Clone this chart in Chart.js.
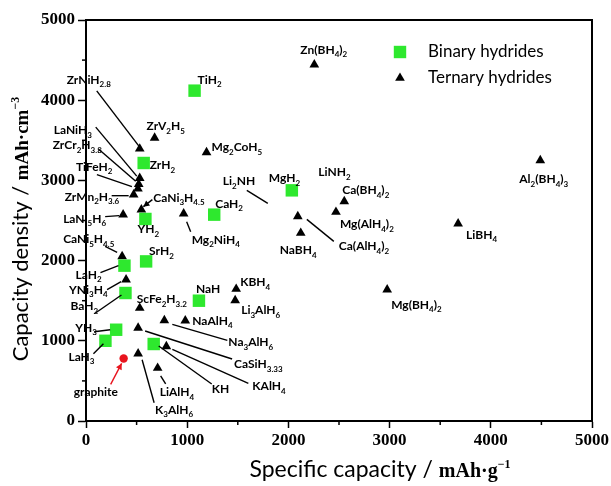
<!DOCTYPE html>
<html><head><meta charset="utf-8">
<script src="https://cdn.jsdelivr.net/npm/chart.js@4/dist/chart.umd.min.js"></script>
<style>html,body{margin:0;padding:0;background:#fff;}canvas{display:block}</style>
</head><body>
<canvas id="c" width="611" height="486"></canvas>
<script>
// ---------------- data ----------------
const binaryNames = ['TiH_2','ZrH_2','MgH_2','CaH_2','YH_2','SrH_2','LaH_2','BaH_2','NaH','YH_3','LaH_3','KH'];
const binaryCapacity = [1073,570,2034,1267,587,594,380,390,1116,298,192,669];
const binaryDensity  = [4119,3217,2876,2573,2519,1990,1937,1596,1500,1138,1000,960];

const ternaryNames = ['Zn(BH_4)_2','ZrV_2H_5','ZrNiH_2.8','Mg_2CoH_5','Al_2(BH_4)_3','LaNiH_3','ZrCr_2H_3.8','TiFeH_2','ZrMn_2H_3.6','Ca(BH_4)_2','CaNi_3H_4.5','Mg(AlH_4)_2','LaNi_5H_6','Mg_2NiH_4','Ca(AlH_4)_2','LiBH_4','NaBH_4','CaNi_5H_4.5','YNi_3H_4','KBH_4','Mg(BH_4)_2','Li_3AlH_6','ScFe_2H_3.2','Na_3AlH_6','NaAlH_4','CaSiH_3.33','KAlH_4','K_3AlH_6','LiAlH_4'];
const ternaryCapacity = [2256,678,531,1191,4489,531,521,513,471,2552,547,2470,367,965,2093,3677,2122,357,396,1484,2976,1474,531,774,981,515,794,515,708];
const ternaryDensity  = [4443,3529,3394,3349,3250,3028,2953,2897,2822,2738,2635,2606,2573,2585,2551,2460,2344,2053,1762,1646,1637,1504,1409,1254,1251,1160,930,839,661];

const referenceNames = ['graphite'];
const referenceCapacity = [372];
const referenceDensity  = [780];

const seriesNames = ['Binary hydrides','Ternary hydrides'];
const xTicks = [0,1000,2000,3000,4000,5000];
const yTicks = [0,1000,2000,3000,4000,5000];
const minorTicks = [500,1500,2500,3500,4500];
const xTitle = ['Specific capacity / ','mAh·g','−1'];
const yTitle = ['Capacity density / ','mAh·cm','−3'];

// ---------------- label layout (pixel offsets from each point) ----------------
const labelLayout = {
 'TiH_2':{dx:3,dy:-11},
 'ZrH_2':{dx:6,dy:2},
 'MgH_2':{dx:-23,dy:-12},
 'CaH_2':{dx:1,dy:-11},
 'YH_2':{dx:-8,dy:10},
 'SrH_2':{dx:3,dy:-10},
 'LaH_2':{dx:-49,dy:9,line:[-24,7,-6,0]},
 'BaH_2':{dx:-55,dy:13,line:[-30,20,-4,2]},
 'NaH':{dx:-3,dy:-12},
 'YH_3':{dx:-41,dy:-2,line:[-22,2,-6,0]},
 'LaH_3':{dx:-37,dy:16,line:[-12,13,-2,3]},
 'KH':{dx:58,dy:45,line:[5,2,58,40]},
 'Zn(BH_4)_2':{dx:-14,dy:-15},
 'ZrV_2H_5':{dx:-8,dy:-12},
 'ZrNiH_2.8':{dx:-73,dy:-69,line:[-43,-58,-1,-3]},
 'Mg_2CoH_5':{dx:5,dy:-5},
 'Al_2(BH_4)_3':{dx:-21,dy:19},
 'LaNiH_3':{dx:-86,dy:-48,line:[-44,-51,-3,-2]},
 'ZrCr_2H_3.8':{dx:-86,dy:-39,line:[-40,-35,-3,-3]},
 'TiFeH_2':{dx:-62,dy:-22,line:[-41,-14,-6,-2]},
 'ZrMn_2H_3.6':{dx:-69,dy:2,line:[-22,1,-5,1]},
 'Ca(BH_4)_2':{dx:-2,dy:-11},
 'CaNi_3H_4.5':{dx:12,dy:-12,line:[11,-10,2,-3],arrow:true},
 'Mg(AlH_4)_2':{dx:4,dy:12},
 'LaNi_5H_6':{dx:-60,dy:4,line:[-18,2,-4,1]},
 'Mg_2NiH_4':{dx:8,dy:26,line:[3,8,7,18]},
 'Ca(AlH_4)_2':{dx:41,dy:30,line:[9,3,36,25]},
 'LiBH_4':{dx:8,dy:11},
 'NaBH_4':{dx:-21,dy:17},
 'CaNi_5H_4.5':{dx:-59,dy:-17,line:[-17,-10,-5,-4]},
 'YNi_3H_4':{dx:-57,dy:10,line:[-19,10,-5,2]},
 'KBH_4':{dx:4,dy:-7},
 'Mg(BH_4)_2':{dx:4,dy:15},
 'Li_3AlH_6':{dx:6,dy:10},
 'ScFe_2H_3.2':{dx:-3,dy:-9},
 'Na_3AlH_6':{dx:64,dy:22,line:[8,4,63,20]},
 'NaAlH_4':{dx:7,dy:0},
 'CaSiH_3.33':{dx:96,dy:36,line:[7,3,94,31]},
 'KAlH_4':{dx:86,dy:40,line:[6,3,82,37]},
 'K_3AlH_6':{dx:17,dy:56,line:[4,6,16,49]},
 'LiAlH_4':{dx:2,dy:24,line:[3,8,8,16]},
 'graphite':{dx:-50,dy:34,line:[-13,26,-2,5],arrow:true,lineColor:'#e8141e'}
};
const extraLabels = [
 {text:'LiNH_2', anchor:'Ca(BH_4)_2', dx:-26, dy:-29},
 {text:'Li_2NH', anchor:'Ca(AlH_4)_2', dx:-75, dy:-35, line:[-51,-26,-30,-13]}
];

const GREEN = 'rgb(46,232,46)';
const RED = '#e8141e';

function parseRich(s){
  const out=[]; const re=/_([0-9.]+)/g; let last=0, m;
  while((m=re.exec(s))){
    if(m.index>last) out.push({t:s.slice(last,m.index),sub:false});
    out.push({t:m[1],sub:true}); last=re.lastIndex;
  }
  if(last<s.length) out.push({t:s.slice(last),sub:false});
  return out;
}
function drawRich(ctx, s, x, y){
  const segs=parseRich(s);
  ctx.textBaseline='middle'; ctx.textAlign='left'; ctx.fillStyle='#000';
  let cx=x;
  for(const g of segs){
    if(g.sub){ ctx.font='bold 8px Lato'; ctx.fillText(g.t,cx,y+5); }
    else { ctx.font='bold 12px Lato'; ctx.fillText(g.t,cx,y); }
    cx+=ctx.measureText(g.t).width;
  }
}
function drawArrowLine(ctx,x1,y1,x2,y2,color,arrow){
  ctx.save(); ctx.strokeStyle=color; ctx.fillStyle=color; ctx.lineWidth=1.4;
  ctx.beginPath(); ctx.moveTo(x1,y1); ctx.lineTo(x2,y2); ctx.stroke();
  if(arrow){
    const a=Math.atan2(y2-y1,x2-x1), L=6, W=3.2;
    ctx.beginPath(); ctx.moveTo(x2,y2);
    ctx.lineTo(x2-L*Math.cos(a)+W*Math.sin(a), y2-L*Math.sin(a)-W*Math.cos(a));
    ctx.lineTo(x2-L*Math.cos(a)-W*Math.sin(a), y2-L*Math.sin(a)+W*Math.cos(a));
    ctx.closePath(); ctx.fill();
  }
  ctx.restore();
}
function drawTitle(ctx, parts, fonts, cx, cy, rotate){
  let w=0; const ws=[];
  parts.forEach((p,i)=>{ctx.font=fonts[i]; ws.push(ctx.measureText(p).width); w+=ws[i];});
  ctx.save(); ctx.translate(cx,cy); if(rotate) ctx.rotate(-Math.PI/2);
  ctx.fillStyle='#000'; ctx.textBaseline='alphabetic'; ctx.textAlign='left';
  let x=-w/2;
  parts.forEach((p,i)=>{ ctx.font=fonts[i]; ctx.fillText(p,x,i===2?-2:7); x+=ws[i]; });
  ctx.restore();
}

const annotate = {
  id:'annotate',
  afterDraw(chart){
    const ctx=chart.ctx, xs=chart.scales.x, ys=chart.scales.y, ca=chart.chartArea;
    ctx.save();
    ctx.strokeStyle='#000'; ctx.lineWidth=2;
    ctx.beginPath(); ctx.moveTo(ca.left,ca.top); ctx.lineTo(ca.right,ca.top); ctx.lineTo(ca.right,ca.bottom); ctx.stroke();
    ctx.lineWidth=1.5;
    minorTicks.forEach(v=>{
      const px=xs.getPixelForValue(v); ctx.beginPath(); ctx.moveTo(px,ca.bottom); ctx.lineTo(px,ca.bottom+4); ctx.stroke();
      const py=ys.getPixelForValue(v); ctx.beginPath(); ctx.moveTo(ca.left,py); ctx.lineTo(ca.left-4,py); ctx.stroke();
    });
    const lookup={};
    chart.data.datasets.forEach(ds=>ds.data.forEach(p=>{ lookup[p.name]={x:xs.getPixelForValue(p.x), y:ys.getPixelForValue(p.y)}; }));
    const drawLabel=(text,P,L)=>{
      if(L.line) drawArrowLine(ctx,P.x+L.line[0],P.y+L.line[1],P.x+L.line[2],P.y+L.line[3],L.lineColor||'#000',L.arrow);
      drawRich(ctx,text,P.x+L.dx,P.y+L.dy);
    };
    Object.keys(lookup).forEach(n=>{ const L=labelLayout[n]; if(L) drawLabel(n,lookup[n],L); });
    extraLabels.forEach(e=>{ const P=lookup[e.anchor]; if(P) drawLabel(e.text,P,e); });
    // legend
    const ds0=chart.data.datasets[0], ds1=chart.data.datasets[1];
    ctx.fillStyle=ds0.backgroundColor; ctx.fillRect(400-6.2,52-6.2,12.4,12.4);
    ctx.fillStyle=ds1.backgroundColor; const r=5.6;
    ctx.beginPath(); ctx.moveTo(400,78-r); ctx.lineTo(400+r*0.866,78+r/2); ctx.lineTo(400-r*0.866,78+r/2); ctx.closePath(); ctx.fill();
    ctx.fillStyle='#000'; ctx.font='17px Lato'; ctx.textBaseline='middle'; ctx.textAlign='left';
    ctx.fillText(ds0.label,428,52); ctx.fillText(ds1.label,428,78);
    // axis titles
    drawTitle(ctx,xTitle,['23px Lato','bold 20px "Liberation Serif"','bold 12px "Liberation Serif"'],380,470,false);
    drawTitle(ctx,yTitle,['22px Lato','bold 19px "Liberation Serif"','bold 12px "Liberation Serif"'],21,229,true);
    ctx.restore();
  }
};

Chart.defaults.font.family = 'Liberation Serif';
Chart.defaults.font.weight = 'bold';
Chart.defaults.font.size = 17;
const tickFont={family:'Liberation Serif',weight:'bold',size:17};
new Chart(document.getElementById('c'),{
  type:'scatter',
  data:{datasets:[
    {label:seriesNames[0], data:binaryNames.map((n,i)=>({x:binaryCapacity[i],y:binaryDensity[i],name:n})),
     pointStyle:'rect', pointRadius:8.8, backgroundColor:GREEN, borderWidth:0, pointBorderWidth:0},
    {label:seriesNames[1], data:ternaryNames.map((n,i)=>({x:ternaryCapacity[i],y:ternaryDensity[i],name:n})),
     pointStyle:'triangle', pointRadius:5.6, backgroundColor:'#000', borderWidth:0, pointBorderWidth:0},
    {label:'graphite', data:referenceNames.map((n,i)=>({x:referenceCapacity[i],y:referenceDensity[i],name:n})),
     pointStyle:'circle', pointRadius:4.2, backgroundColor:RED, borderWidth:0, pointBorderWidth:0}
  ]},
  options:{
    responsive:false, animation:false, events:[],
    layout:{padding:{top:20,right:19,left:0,bottom:0}},
    plugins:{legend:{display:false},tooltip:{enabled:false},title:{display:false}},
    scales:{
      x:{type:'linear',min:0,max:5000,
        afterBuildTicks:s=>{s.ticks=xTicks.map(v=>({value:v}));},
        afterFit:s=>{s.height=65;},
        ticks:{font:tickFont,color:'#000',padding:2,maxRotation:0,autoSkip:false,callback:v=>String(v)},
        grid:{display:true,drawOnChartArea:false,drawTicks:true,tickLength:7,tickColor:'#000',tickWidth:1.5},
        border:{display:true,color:'#000',width:2}},
      y:{type:'linear',min:0,max:5000,
        afterBuildTicks:s=>{s.ticks=yTicks.map(v=>({value:v}));},
        afterFit:s=>{s.width=86;},
        ticks:{font:tickFont,color:'#000',padding:3,callback:v=>String(v)},
        grid:{display:true,drawOnChartArea:false,drawTicks:true,tickLength:8,tickColor:'#000',tickWidth:1.5},
        border:{display:true,color:'#000',width:2}}
    }
  },
  plugins:[annotate]
});
</script>
</body></html>
